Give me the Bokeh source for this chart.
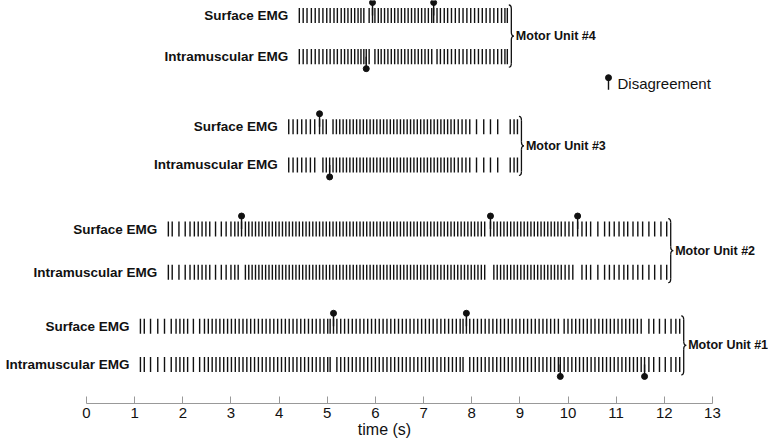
from bokeh.plotting import figure
from bokeh.models import Range1d
from bokeh.embed import file_html
from bokeh.resources import INLINE
from bokeh.core.properties import value

# ---------------- data (spike times in seconds) ----------------
mu_names = ["Motor Unit #1", "Motor Unit #2", "Motor Unit #3", "Motor Unit #4"]
row_names = ["Surface EMG", "Intramuscular EMG"]

mu1_common = [1.12,1.20,1.33,1.48,1.62,1.76,1.86,1.94,2.02,2.10,2.22,2.35,2.45,2.53,2.61,2.69,2.77,2.85,2.93,3.01,3.09,3.17,3.25,3.33,3.41,3.49,3.57,3.65,3.73,3.81,3.89,3.97,4.05,4.13,4.21,4.29,4.37,4.45,4.53,4.61,4.69,4.77,4.85,4.93,5.01,5.06,5.20,5.28,5.36,5.44,5.52,5.60,5.68,5.76,5.84,5.92,6.00,6.08,6.16,6.24,6.32,6.40,6.48,6.56,6.64,6.72,6.80,6.88,6.96,7.04,7.12,7.20,7.28,7.36,7.44,7.52,7.60,7.68,7.76,7.82,7.96,8.04,8.12,8.20,8.28,8.36,8.44,8.52,8.60,8.68,8.76,8.84,8.92,9.00,9.08,9.16,9.24,9.32,9.40,9.48,9.56,9.64,9.72,9.80,9.92,10.00,10.08,10.16,10.24,10.32,10.40,10.48,10.56,10.64,10.72,10.80,10.88,10.96,11.04,11.12,11.20,11.28,11.36,11.44,11.52,11.68,11.78,11.90,12.02,12.14,12.24,12.32]
mu1_surface_only = [5.13, 7.89]
mu1_intra_only = [9.84, 11.59]

mu2_common = [1.70,1.78,1.92,2.05,2.15,2.24,2.32,2.40,2.48,2.56,2.68,2.80,2.90,3.00,3.08,3.15,3.30,3.37,3.44,3.51,3.58,3.65,3.72,3.79,3.86,3.93,4.00,4.07,4.14,4.21,4.28,4.35,4.42,4.49,4.56,4.63,4.70,4.77,4.84,4.91,4.98,5.05,5.12,5.19,5.26,5.33,5.40,5.47,5.54,5.61,5.68,5.75,5.82,5.89,5.96,6.03,6.10,6.17,6.24,6.31,6.38,6.45,6.52,6.59,6.66,6.73,6.80,6.87,6.94,7.01,7.08,7.15,7.22,7.29,7.36,7.43,7.50,7.57,7.64,7.71,7.78,7.85,7.92,7.99,8.06,8.13,8.20,8.27,8.46,8.53,8.60,8.67,8.74,8.81,8.88,8.95,9.02,9.09,9.16,9.23,9.30,9.37,9.44,9.51,9.58,9.65,9.72,9.79,9.86,9.94,10.02,10.10,10.29,10.38,10.47,10.62,10.76,10.86,10.96,11.06,11.16,11.24,11.35,11.45,11.55,11.68,11.80,11.93,12.05]
mu2_surface_only = [3.22, 8.39, 10.20]
mu2_intra_only = []

mu3_common = [4.20,4.29,4.38,4.47,4.56,4.65,4.74,4.91,4.98,5.12,5.19,5.26,5.33,5.40,5.47,5.54,5.61,5.68,5.75,5.82,5.89,5.96,6.03,6.10,6.17,6.24,6.31,6.38,6.45,6.52,6.59,6.66,6.73,6.80,6.87,6.94,7.01,7.08,7.15,7.22,7.29,7.36,7.43,7.50,7.57,7.64,7.72,7.80,7.88,7.96,8.10,8.25,8.39,8.54,8.80,8.88,8.95]
mu3_surface_only = [4.84]
mu3_intra_only = [5.05]

mu4_common = [4.42,4.50,4.58,4.67,4.75,4.83,4.91,4.99,5.06,5.14,5.21,5.29,5.36,5.43,5.50,5.57,5.64,5.70,5.76,5.87,5.99,6.06,6.12,6.19,6.26,6.33,6.40,6.47,6.54,6.61,6.68,6.75,6.82,6.89,6.96,7.03,7.10,7.17,7.28,7.35,7.43,7.50,7.58,7.66,7.74,7.82,7.90,7.98,8.06,8.14,8.22,8.30,8.38,8.46,8.54,8.62,8.69,8.74]
mu4_surface_only = [5.94, 7.21]
mu4_intra_only = [5.81]

x_ticks = list(range(0, 14))
legend_label = "Disagreement"

# ---------------- layout (picture-pixel y coordinates) ----------------
W, H = 768, 440
FRAME_BOTTOM = 402
X0_PX, PX_PER_S = 86, 48.15
x_start = (0 - X0_PX) / PX_PER_S
x_end = (W - X0_PX) / PX_PER_S
S_PER_PX = 1.0 / PX_PER_S

row_y = {
    "Motor Unit #1": (325, 363),
    "Motor Unit #2": (228, 271),
    "Motor Unit #3": (126, 164),
    "Motor Unit #4": (15, 56),
}
HALF = 7.5
FONT = "Liberation Sans"
INK = "#111111"

units = {
    "Motor Unit #1": (mu1_common, mu1_surface_only, mu1_intra_only),
    "Motor Unit #2": (mu2_common, mu2_surface_only, mu2_intra_only),
    "Motor Unit #3": (mu3_common, mu3_surface_only, mu3_intra_only),
    "Motor Unit #4": (mu4_common, mu4_surface_only, mu4_intra_only),
}

p = figure(width=W, height=H, output_backend="svg", toolbar_location=None,
           x_range=Range1d(x_start, x_end), y_range=Range1d(FRAME_BOTTOM, 0),
           y_axis_location=None, min_border=0)
p.outline_line_color = None
p.grid.visible = False
p.background_fill_color = "white"

tick_x, tick_y0, tick_y1 = [], [], []
lab_x, lab_y, lab_t = [], [], []
lol_x, lol_y0, lol_y1 = [], [], []
for name in mu_names:
    common, s_only, i_only = units[name]
    ys, yi = row_y[name]
    surf = sorted(common + s_only)
    intra = sorted(common + i_only)
    for t in surf:
        tick_x.append(t); tick_y0.append(ys - HALF); tick_y1.append(ys + HALF)
    for t in intra:
        tick_x.append(t); tick_y0.append(yi - HALF); tick_y1.append(yi + HALF)
    for t in s_only:
        lol_x.append(t); lol_y0.append(ys); lol_y1.append(ys - 13)
    for t in i_only:
        lol_x.append(t); lol_y0.append(yi); lol_y1.append(yi + 12)
    first = min(surf[0], intra[0])
    lab_x += [first, first]; lab_y += [ys, yi]; lab_t += row_names

p.segment(x0=tick_x, y0=tick_y0, x1=tick_x, y1=tick_y1, line_color=INK, line_width=1.4)
p.segment(x0=lol_x, y0=lol_y0, x1=lol_x, y1=lol_y1, line_color=INK, line_width=1.4)
p.scatter(x=lol_x, y=lol_y1, size=6, marker="circle", fill_color=INK, line_color=INK)

p.text(x=lab_x, y=lab_y, text=lab_t, x_offset=-11, text_align="right", text_baseline="middle",
       text_font=value(FONT), text_font_style="bold", text_font_size="13.5px", text_color=INK)

# braces
bx0, by0, bx1, by1, bcx, bcy = [], [], [], [], [], []
sx0, sy0, sx1, sy1 = [], [], [], []
mx, my, mt = [], [], []
w = 2.5 * S_PER_PX
r = 4
for name in mu_names:
    common, s_only, i_only = units[name]
    ys, yi = row_y[name]
    last = max(common + s_only + i_only)
    x0 = last + 1.5 * S_PER_PX
    ytop, ybot = ys - HALF - 3, yi + HALF + 3
    ymid = (ytop + ybot) / 2
    bx0 += [x0, x0 + w, x0 + w, x0]
    by0 += [ytop, ymid - r, ymid + r, ybot]
    bx1 += [x0 + w, x0 + 2 * w, x0 + 2 * w, x0 + w]
    by1 += [ytop + r, ymid, ymid, ybot - r]
    bcx += [x0 + w, x0 + w, x0 + w, x0 + w]
    bcy += [ytop, ymid, ymid, ybot]
    sx0 += [x0 + w, x0 + w]; sy0 += [ytop + r, ymid + r]
    sx1 += [x0 + w, x0 + w]; sy1 += [ymid - r, ybot - r]
    mx.append(x0 + 2 * w); my.append(ymid); mt.append(name)

p.quadratic(x0=bx0, y0=by0, x1=bx1, y1=by1, cx=bcx, cy=bcy, line_color=INK, line_width=1.3)
p.segment(x0=sx0, y0=sy0, x1=sx1, y1=sy1, line_color=INK, line_width=1.3)
p.text(x=mx, y=my, text=mt, x_offset=2, text_align="left", text_baseline="middle",
       text_font=value(FONT), text_font_style="bold", text_font_size="12.5px", text_color=INK)

# legend (lollipop + label)
leg_t = (608 - X0_PX) / PX_PER_S
p.segment(x0=[leg_t], y0=[89], x1=[leg_t], y1=[77], line_color=INK, line_width=1.4)
p.scatter(x=[leg_t], y=[77], size=6, marker="circle", fill_color=INK, line_color=INK)
p.text(x=[leg_t], y=[83], text=[legend_label], x_offset=9, text_align="left", text_baseline="middle",
       text_font=value(FONT), text_font_size="15px", text_color=INK)

ax = p.xaxis[0]
ax.ticker = x_ticks
ax.bounds = (0, 13)
ax.major_tick_in = 7
ax.major_tick_out = 0
ax.minor_tick_in = 0
ax.minor_tick_out = 0
ax.axis_line_color = "#999999"
ax.major_tick_line_color = "#999999"
ax.major_label_text_font = FONT
ax.major_label_text_font_size = "15px"
ax.major_label_text_color = INK
ax.major_label_standoff = 4
ax.axis_label = "time (s)"
ax.axis_label_text_font = FONT
ax.axis_label_text_font_size = "16px"
ax.axis_label_text_font_style = "normal"
ax.axis_label_text_color = INK
ax.axis_label_standoff = 0

open("out.html", "w").write(file_html(p, INLINE))
